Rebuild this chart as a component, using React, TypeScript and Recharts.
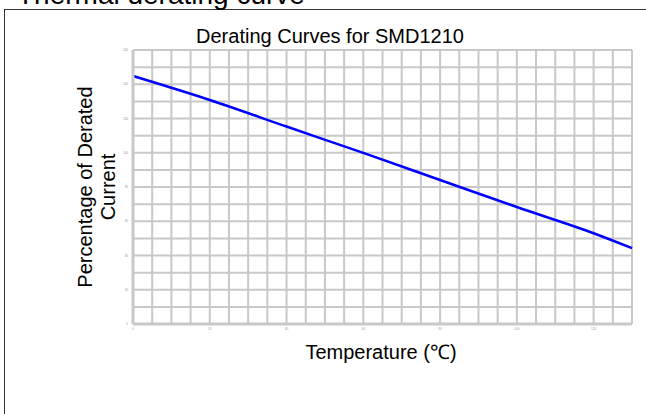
import React from 'react';
import { LineChart, Line, XAxis, YAxis, ReferenceLine } from 'recharts';

// temperature (°C) vs percentage of derated current
const TEMPS = [0, 20, 40, 60, 80, 100, 120, 130];
const CURRENT_PCT = [144.8, 130.8, 115.3, 99.9, 84.1, 68.3, 53.0, 44.3];

const X_TICKS = [0, 20, 40, 60, 80, 100, 120];
const Y_TICKS = [0, 20, 40, 60, 80, 100, 120, 140, 160];
// minor grid steps
const X_GRID = [0, 5, 10, 15, 20, 25, 30, 35, 40, 45, 50, 55, 60, 65, 70, 75, 80, 85, 90, 95, 100, 105, 110, 115, 120, 125, 130];
const Y_GRID = [0, 10, 20, 30, 40, 50, 60, 70, 80, 90, 100, 110, 120, 130, 140, 150, 160];

const data = TEMPS.map((t, i) => ({ temp: t, pct: CURRENT_PCT[i] }));

const FONT = '"Liberation Sans", Arial, sans-serif';
const GRID = '#c8c8c8';

const App: React.FC = () => {
  return (
    <div style={{ position: 'absolute', left: 0, top: 0, width: 646, height: 414, fontFamily: FONT }}>
      <svg width={646} height={414} style={{ position: 'absolute', left: 0, top: 0 }}>
        <rect x={4.5} y={9.5} width={700} height={500} fill="none" stroke="#333" strokeWidth={1} />
        <text x={17} y={3.5} fontSize={28} fontFamily={FONT} fill="#000">Thermal derating curve</text>
        <text x={330} y={42.7} fontSize={20} fontFamily={FONT} textAnchor="middle" fill="#000">
          Derating Curves for SMD1210
        </text>
        <text transform="translate(92,187) rotate(-90)" fontSize={20} fontFamily={FONT} textAnchor="middle" fill="#000">
          Percentage of Derated
        </text>
        <text transform="translate(115,187) rotate(-90)" fontSize={20} fontFamily={FONT} textAnchor="middle" fill="#000">
          Current
        </text>
        <text x={381} y={359} fontSize={20} fontFamily={FONT} textAnchor="middle" fill="#000">
          Temperature (℃)
        </text>
      </svg>
      <div style={{ position: 'absolute', left: 0, top: 0 }}>
        <LineChart width={646} height={414} data={data} margin={{ top: 50, right: 14, bottom: 60, left: 113 }}>
          {X_GRID.map((v) => (
            <ReferenceLine key={'gx' + v} x={v} stroke={GRID} strokeWidth={2} />
          ))}
          {Y_GRID.map((v) => (
            <ReferenceLine key={'gy' + v} y={v} stroke={GRID} strokeWidth={2} />
          ))}
          <XAxis
            dataKey="temp"
            type="number"
            domain={[0, 130]}
            ticks={X_TICKS}
            height={30}
            tickLine={false}
            tickSize={3}
            tickMargin={1}
            axisLine={{ stroke: GRID, strokeWidth: 3 }}
            tick={{ fontSize: 3, fill: '#999', fontFamily: FONT }}
          />
          <YAxis
            type="number"
            domain={[0, 160]}
            ticks={Y_TICKS}
            width={20}
            tickLine={false}
            tickSize={3}
            tickMargin={2}
            axisLine={{ stroke: GRID, strokeWidth: 3 }}
            tick={{ fontSize: 3, fill: '#999', fontFamily: FONT }}
          />
          <Line
            type="monotone"
            dataKey="pct"
            stroke="#0000ff"
            strokeWidth={2.5}
            dot={false}
            isAnimationActive={false}
          />
        </LineChart>
      </div>
    </div>
  );
};

export default App;
